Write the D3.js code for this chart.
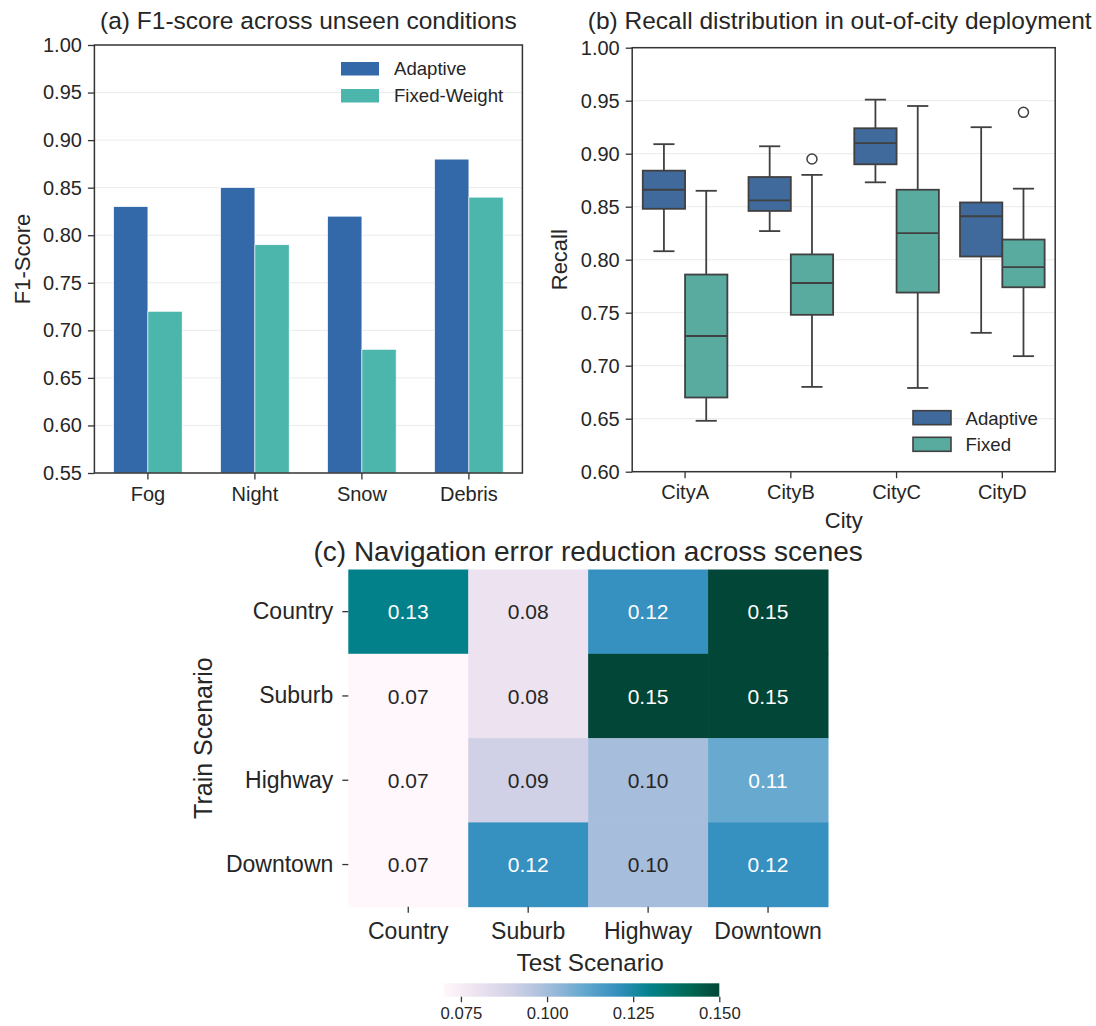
<!DOCTYPE html>
<html>
<head>
<meta charset="utf-8">
<script src="https://cdn.jsdelivr.net/npm/d3@7"></script>
<style>
  body { margin: 0; background: #ffffff; }
  svg { display: block; font-family: "Liberation Sans", Arial, sans-serif; }
</style>
</head>
<body>
<svg id="fig" width="1096" height="1026"></svg>
<script>
// ---- (a) F1-score per unseen condition ----
const conditions = ["Fog", "Night", "Snow", "Debris"];
const f1Adaptive = [0.83, 0.85, 0.82, 0.88];
const f1Fixed = [0.72, 0.79, 0.68, 0.84];
const f1Ticks = [0.55, 0.60, 0.65, 0.70, 0.75, 0.80, 0.85, 0.90, 0.95, 1.00];
const f1Series = ["Adaptive", "Fixed-Weight"];

// ---- (b) recall box summaries: [whisker low, Q1, median, Q3, whisker high] ----
const cities = ["CityA", "CityB", "CityC", "CityD"];
const recallAdaptive = [
  [0.808, 0.848, 0.866, 0.884, 0.909],
  [0.827, 0.846, 0.856, 0.878, 0.907],
  [0.873, 0.890, 0.910, 0.924, 0.951],
  [0.731, 0.803, 0.841, 0.854, 0.925]
];
const recallFixed = [
  [0.648, 0.670, 0.728, 0.786, 0.865],
  [0.680, 0.748, 0.778, 0.805, 0.880],
  [0.679, 0.769, 0.825, 0.866, 0.945],
  [0.709, 0.774, 0.793, 0.819, 0.867]
];
const recallAdaptiveOutliers = [[], [], [], []];
const recallFixedOutliers = [[], [0.895], [], [0.939]];
const recallTicks = [0.60, 0.65, 0.70, 0.75, 0.80, 0.85, 0.90, 0.95, 1.00];
const recallSeries = ["Adaptive", "Fixed"];

// ---- (c) navigation error reduction, rows = train, cols = test ----
const trainScenes = ["Country", "Suburb", "Highway", "Downtown"];
const testScenes = ["Country", "Suburb", "Highway", "Downtown"];
const errorReduction = [
  [0.13, 0.08, 0.12, 0.15],
  [0.07, 0.08, 0.15, 0.15],
  [0.07, 0.09, 0.10, 0.11],
  [0.07, 0.12, 0.10, 0.12]
];
const colorbarTicks = [0.075, 0.100, 0.125, 0.150];
const colorDomain = [0.07, 0.15];

const svg = d3.select("#fig");
svg.append("rect").attr("width", 1096).attr("height", 1026).attr("fill", "#fff");

const ink = "#262626";
const spine = "#333333";
const gridColor = "#ebebeb";

function styleAxis(g, fontSize) {
  g.selectAll(".domain").remove();
  g.selectAll(".tick line").attr("stroke", spine).attr("stroke-width", 1.3);
  g.selectAll(".tick text").attr("fill", ink).attr("font-size", fontSize)
    .attr("font-family", "Liberation Sans, Arial, sans-serif");
}

// ================= Panel (a): grouped bars =================
(function () {
  const L = 94.4, R = 522.4, T = 45, B = 473;
  const x = d3.scaleBand().domain(conditions).range([L, R]).padding(0);
  const y = d3.scaleLinear().domain([0.55, 1.00]).range([B, T]);
  const bw = x.bandwidth() * 0.32;
  const colors = { "Adaptive": "#3368a9", "Fixed-Weight": "#4db6ac" };
  const g = svg.append("g");

  g.append("g").selectAll("line").data(f1Ticks.slice(1, -1)).join("line")
    .attr("x1", L).attr("x2", R).attr("y1", d => y(d)).attr("y2", d => y(d))
    .attr("stroke", gridColor).attr("stroke-width", 1);

  const rows = conditions.map((c, i) => ({ c, a: f1Adaptive[i], f: f1Fixed[i] }));
  g.append("g").selectAll("rect").data(rows).join("rect")
    .attr("x", d => x(d.c) + x.bandwidth() / 2 - bw).attr("width", bw)
    .attr("y", d => y(d.a)).attr("height", d => B - y(d.a))
    .attr("fill", colors["Adaptive"]).attr("stroke", "#ffffff").attr("stroke-width", 0.6);
  g.append("g").selectAll("rect").data(rows).join("rect")
    .attr("x", d => x(d.c) + x.bandwidth() / 2).attr("width", bw)
    .attr("y", d => y(d.f)).attr("height", d => B - y(d.f))
    .attr("fill", colors["Fixed-Weight"]).attr("stroke", "#ffffff").attr("stroke-width", 0.6);

  g.append("rect").attr("x", L).attr("y", T).attr("width", R - L).attr("height", B - T)
    .attr("fill", "none").attr("stroke", spine).attr("stroke-width", 1.5);

  const ya = g.append("g").attr("transform", `translate(${L},0)`)
    .call(d3.axisLeft(y).tickValues(f1Ticks).tickFormat(d3.format(".2f")).tickSize(6.5).tickPadding(6));
  styleAxis(ya, 20);
  const xa = g.append("g").attr("transform", `translate(0,${B})`)
    .call(d3.axisBottom(x).tickSize(6.5).tickPadding(7));
  styleAxis(xa, 20);

  g.append("text").attr("x", (L + R) / 2).attr("y", 29).attr("text-anchor", "middle")
    .attr("font-size", 24.5).attr("fill", ink).text("(a) F1-score across unseen conditions");
  g.append("text").attr("transform", `translate(29.5,${(T + B) / 2}) rotate(-90)`)
    .attr("text-anchor", "middle").attr("font-size", 22).attr("fill", ink).text("F1-Score");

  const leg = g.append("g");
  f1Series.forEach((s, i) => {
    leg.append("rect").attr("x", 341).attr("y", 62 + i * 27).attr("width", 38).attr("height", 13.5)
      .attr("fill", colors[s]);
    leg.append("text").attr("x", 394).attr("y", 75 + i * 27).attr("font-size", 18.6)
      .attr("fill", ink).text(s);
  });
})();

// ================= Panel (b): box plots =================
(function () {
  const L = 632.2, R = 1055.2, T = 47.7, B = 471.7;
  const x = d3.scaleBand().domain(cities).range([L, R]).padding(0);
  const y = d3.scaleLinear().domain([0.60, 1.00]).range([B, T]);
  const inner = d3.scaleBand().domain(recallSeries).range([0, x.bandwidth() * 0.8]);
  const colors = { "Adaptive": "#3f6a9b", "Fixed": "#59ab9f" };
  const line = "#404040";
  const lw = 1.8;
  const g = svg.append("g");

  g.append("g").selectAll("line").data(recallTicks.slice(1, -1)).join("line")
    .attr("x1", L).attr("x2", R).attr("y1", d => y(d)).attr("y2", d => y(d))
    .attr("stroke", gridColor).attr("stroke-width", 1);

  const boxes = [];
  cities.forEach((c, i) => {
    boxes.push({ c, s: "Adaptive", v: recallAdaptive[i], out: recallAdaptiveOutliers[i] });
    boxes.push({ c, s: "Fixed", v: recallFixed[i], out: recallFixedOutliers[i] });
  });

  const bg = g.append("g").selectAll("g").data(boxes).join("g")
    .attr("transform", d => `translate(${x(d.c) + x.bandwidth() * 0.1 + inner(d.s)},0)`);
  const w = inner.bandwidth();
  // whiskers
  bg.append("line").attr("x1", w / 2).attr("x2", w / 2)
    .attr("y1", d => y(d.v[0])).attr("y2", d => y(d.v[1])).attr("stroke", line).attr("stroke-width", lw);
  bg.append("line").attr("x1", w / 2).attr("x2", w / 2)
    .attr("y1", d => y(d.v[3])).attr("y2", d => y(d.v[4])).attr("stroke", line).attr("stroke-width", lw);
  // caps
  bg.append("line").attr("x1", w / 4).attr("x2", w * 3 / 4)
    .attr("y1", d => y(d.v[0])).attr("y2", d => y(d.v[0])).attr("stroke", line).attr("stroke-width", lw);
  bg.append("line").attr("x1", w / 4).attr("x2", w * 3 / 4)
    .attr("y1", d => y(d.v[4])).attr("y2", d => y(d.v[4])).attr("stroke", line).attr("stroke-width", lw);
  // box
  bg.append("rect").attr("x", 0).attr("width", w)
    .attr("y", d => y(d.v[3])).attr("height", d => y(d.v[1]) - y(d.v[3]))
    .attr("fill", d => colors[d.s]).attr("stroke", line).attr("stroke-width", lw);
  // median
  bg.append("line").attr("x1", 0).attr("x2", w)
    .attr("y1", d => y(d.v[2])).attr("y2", d => y(d.v[2])).attr("stroke", line).attr("stroke-width", lw);
  // outliers
  bg.selectAll("circle").data(d => d.out).join("circle")
    .attr("cx", w / 2).attr("cy", d => y(d)).attr("r", 5)
    .attr("fill", "none").attr("stroke", line).attr("stroke-width", 1.5);

  g.append("rect").attr("x", L).attr("y", T).attr("width", R - L).attr("height", B - T)
    .attr("fill", "none").attr("stroke", spine).attr("stroke-width", 1.5);

  const ya = g.append("g").attr("transform", `translate(${L},0)`)
    .call(d3.axisLeft(y).tickValues(recallTicks).tickFormat(d3.format(".2f")).tickSize(6.5).tickPadding(6));
  styleAxis(ya, 20);
  const xa = g.append("g").attr("transform", `translate(0,${B})`)
    .call(d3.axisBottom(x).tickSize(6.5).tickPadding(7));
  styleAxis(xa, 20);

  g.append("text").attr("x", (L + R) / 2 - 4).attr("y", 29).attr("text-anchor", "middle")
    .attr("font-size", 24.5).attr("fill", ink).text("(b) Recall distribution in out-of-city deployment");
  g.append("text").attr("transform", `translate(567,${(T + B) / 2}) rotate(-90)`)
    .attr("text-anchor", "middle").attr("font-size", 22).attr("fill", ink).text("Recall");
  g.append("text").attr("x", (L + R) / 2).attr("y", 528).attr("text-anchor", "middle")
    .attr("font-size", 22).attr("fill", ink).text("City");

  const leg = g.append("g");
  recallSeries.forEach((s, i) => {
    leg.append("rect").attr("x", 913).attr("y", 410.7 + i * 26.6).attr("width", 38).attr("height", 14)
      .attr("fill", colors[s]).attr("stroke", line).attr("stroke-width", 1.6);
    leg.append("text").attr("x", 965.5).attr("y", 424.5 + i * 26.6).attr("font-size", 18.6)
      .attr("fill", ink).text(s);
  });
})();

// ================= Panel (c): heatmap =================
(function () {
  const L = 348.3, R = 828, T = 569.5, B = 906.7;
  const x = d3.scaleBand().domain(testScenes).range([L, R]);
  const y = d3.scaleBand().domain(trainScenes).range([T, B]);
  const interp = d3.piecewise(d3.interpolateRgb, d3.schemePuBuGn[9]);
  const color = d3.scaleSequential(interp).domain(colorDomain);
  const g = svg.append("g");

  const cells = [];
  trainScenes.forEach((r, i) => testScenes.forEach((c, j) => cells.push({ r, c, v: errorReduction[i][j] })));

  g.append("g").selectAll("rect").data(cells).join("rect")
    .attr("x", d => x(d.c)).attr("y", d => y(d.r))
    .attr("width", x.bandwidth() + 0.5).attr("height", y.bandwidth() + 0.5)
    .attr("fill", d => color(d.v));

  g.append("g").selectAll("text").data(cells).join("text")
    .attr("x", d => x(d.c) + x.bandwidth() / 2).attr("y", d => y(d.r) + y.bandwidth() / 2)
    .attr("dy", "0.36em").attr("text-anchor", "middle").attr("font-size", 21)
    .attr("fill", d => {
      const c = d3.rgb(color(d.v));
      const lum = 0.2126 * c.r + 0.7152 * c.g + 0.0722 * c.b;
      return lum > 172 ? ink : "#ffffff";
    })
    .text(d => d3.format(".2f")(d.v));

  const ya = g.append("g").attr("transform", `translate(${L},0)`)
    .call(d3.axisLeft(y).tickSize(6).tickPadding(9));
  styleAxis(ya, 23);
  const xa = g.append("g").attr("transform", `translate(0,${B})`)
    .call(d3.axisBottom(x).tickSize(6).tickPadding(10));
  styleAxis(xa, 23);

  g.append("text").attr("x", (L + R) / 2).attr("y", 561).attr("text-anchor", "middle")
    .attr("font-size", 28).attr("fill", ink).text("(c) Navigation error reduction across scenes");
  g.append("text").attr("x", (L + R) / 2 + 2).attr("y", 970.5).attr("text-anchor", "middle")
    .attr("font-size", 24.3).attr("fill", ink).text("Test Scenario");
  g.append("text").attr("transform", `translate(212,${(T + B) / 2}) rotate(-90)`)
    .attr("text-anchor", "middle").attr("font-size", 25).attr("fill", ink).text("Train Scenario");

  // colorbar
  const cbL = 443.7, cbR = 719.3, cbT = 983.3, cbB = 996.7;
  const cx = d3.scaleLinear().domain(colorDomain).range([cbL, cbR]);
  const defs = svg.append("defs");
  const grad = defs.append("linearGradient").attr("id", "cbGrad")
    .attr("x1", "0%").attr("x2", "100%").attr("y1", "0%").attr("y2", "0%");
  d3.range(0, 1.0001, 0.05).forEach(t => {
    grad.append("stop").attr("offset", `${t * 100}%`).attr("stop-color", interp(t));
  });
  g.append("rect").attr("x", cbL).attr("y", cbT).attr("width", cbR - cbL).attr("height", cbB - cbT)
    .attr("fill", "url(#cbGrad)");
  const ca = g.append("g").attr("transform", `translate(0,${cbB})`)
    .call(d3.axisBottom(cx).tickValues(colorbarTicks).tickFormat(d3.format(".3f")).tickSize(5.5).tickPadding(5));
  styleAxis(ca, 16.7);
})();
</script>
</body>
</html>
